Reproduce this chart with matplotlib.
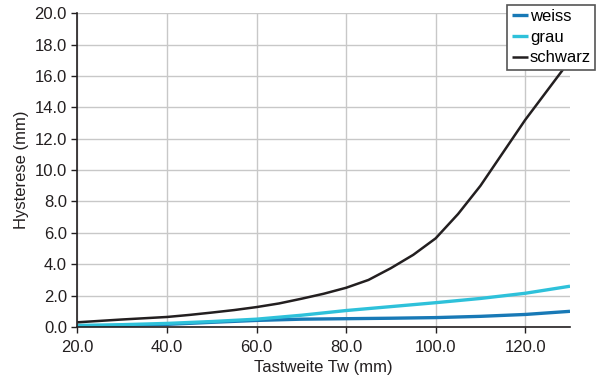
import matplotlib
matplotlib.use('Agg')
import matplotlib.pyplot as plt

plt.rcParams['font.family'] = ['Liberation Sans', 'DejaVu Sans']

x = [20, 30, 40, 50, 60, 70, 80, 90, 100, 110, 120, 130]
weiss = [0.05, 0.10, 0.17, 0.30, 0.42, 0.50, 0.53, 0.56, 0.60, 0.68, 0.80, 1.00]
grau = [0.10, 0.15, 0.23, 0.35, 0.50, 0.75, 1.05, 1.30, 1.55, 1.82, 2.15, 2.60]

x_s = [20, 25, 30, 35, 40, 45, 50, 55, 60, 65, 70, 75, 80, 85, 90, 95, 100,
       105, 110, 115, 120, 125, 130]
schwarz = [0.30, 0.39, 0.48, 0.56, 0.64, 0.77, 0.92, 1.08, 1.27, 1.50, 1.80, 2.12,
           2.50, 3.00, 3.75, 4.60, 5.65, 7.20, 9.00, 11.10, 13.20, 15.10, 17.00]

fig = plt.figure(figsize=(6, 3.87), dpi=100)
ax = fig.add_axes([0.129, 0.155, 0.821, 0.811])

ax.plot(x, weiss, color='#1879b6', lw=2.4, label='weiss', solid_capstyle='butt')
ax.plot(x, grau, color='#2ec1da', lw=2.4, label='grau', solid_capstyle='butt')
ax.plot(x_s, schwarz, color='#231f20', lw=1.8, label='schwarz', solid_capstyle='butt')

ax.set_xlim(20, 130)
ax.set_ylim(0, 20)
ax.set_xticks([20, 40, 60, 80, 100, 120])
ax.set_yticks(range(0, 21, 2))
ax.xaxis.set_major_formatter(matplotlib.ticker.FormatStrFormatter('%.1f'))
ax.yaxis.set_major_formatter(matplotlib.ticker.FormatStrFormatter('%.1f'))
ax.tick_params(labelsize=12, colors='#231f20', length=4, width=1, direction='out')
ax.tick_params(axis='x', pad=5)
ax.grid(True, color='#c8c8c8', lw=1)
ax.set_axisbelow(True)
for s in ['top', 'right']:
    ax.spines[s].set_visible(False)
for s in ['left', 'bottom']:
    ax.spines[s].set_color('#231f20')
    ax.spines[s].set_linewidth(1.2)

ax.set_xlabel('Tastweite Tw (mm)', fontsize=12, color='#231f20', labelpad=4)
ax.set_ylabel('Hysterese (mm)', fontsize=12, color='#231f20', labelpad=4)

leg = fig.legend(loc='upper right', bbox_to_anchor=(0.992, 0.988), fontsize=12,
                 handlelength=1.0, handletextpad=0.1, borderpad=0.25,
                 labelspacing=0.35, fancybox=False, framealpha=1,
                 edgecolor='#555555', borderaxespad=0)
leg.get_frame().set_linewidth(1.2)

fig.savefig('out.png', dpi=100)
